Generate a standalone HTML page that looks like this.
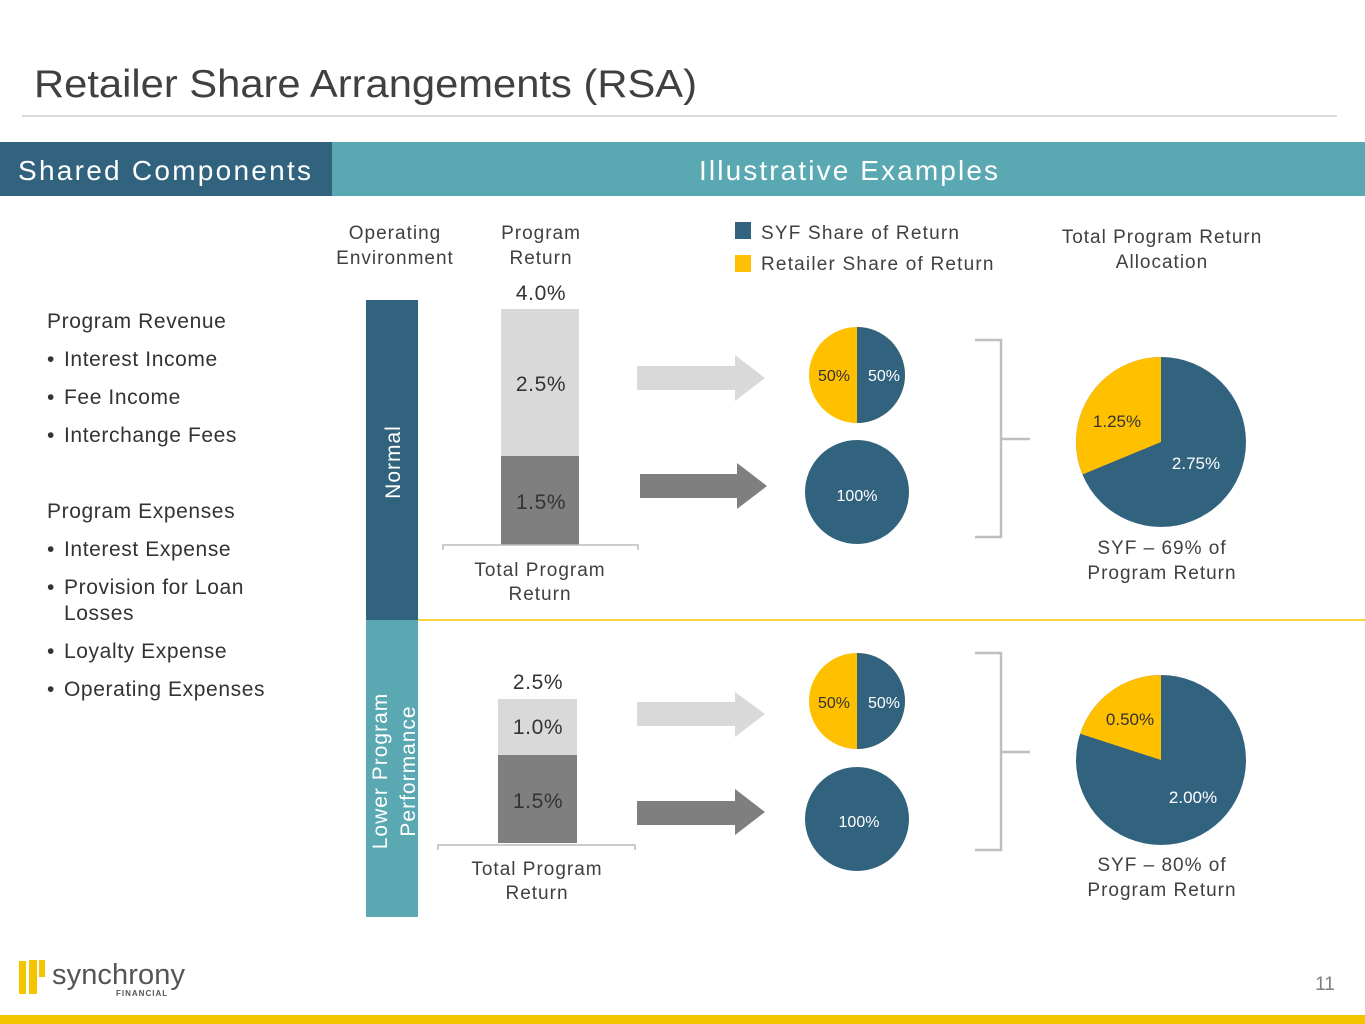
<!DOCTYPE html>
<html><head><meta charset="utf-8"><style>
html,body{margin:0;padding:0;background:#fff;}
svg{display:block;font-family:"Liberation Sans",Arial,sans-serif;}
</style></head><body>
<svg width="1365" height="1024" viewBox="0 0 1365 1024" xmlns="http://www.w3.org/2000/svg">
<text x="34" y="97" font-size="39" fill="#404040" textLength="663" lengthAdjust="spacingAndGlyphs">Retailer Share Arrangements (RSA)</text>
<line x1="22" y1="116" x2="1337" y2="116" stroke="#d0d0d0" stroke-width="1.5"/>
<rect x="0" y="142" width="332" height="54" fill="#31637E"/>
<rect x="332" y="142" width="1033" height="54" fill="#5AA8B2"/>
<text x="18" y="180" font-size="28" fill="#fff" textLength="293">Shared Components</text>
<text x="699" y="180" font-size="28" fill="#fff" textLength="299">Illustrative Examples</text>

<g font-size="21" fill="#333" letter-spacing="0.6">
<text x="47" y="328">Program Revenue</text>
<text x="47" y="366">•</text><text x="64" y="366">Interest Income</text>
<text x="47" y="404">•</text><text x="64" y="404">Fee Income</text>
<text x="47" y="442">•</text><text x="64" y="442">Interchange Fees</text>
<text x="47" y="518">Program Expenses</text>
<text x="47" y="556">•</text><text x="64" y="556">Interest Expense</text>
<text x="47" y="594">•</text><text x="64" y="594">Provision for Loan</text>
<text x="64" y="620">Losses</text>
<text x="47" y="658">•</text><text x="64" y="658">Loyalty Expense</text>
<text x="47" y="696">•</text><text x="64" y="696">Operating Expenses</text>
</g>

<g font-size="19" fill="#404040" text-anchor="middle" letter-spacing="1">
<text x="395" y="239">Operating</text>
<text x="395" y="264">Environment</text>
<text x="541" y="239">Program</text>
<text x="541" y="264">Return</text>
<text x="1162" y="243">Total Program Return</text>
<text x="1162" y="268">Allocation</text>
</g>
<rect x="735" y="222" width="16" height="17" fill="#31637E"/>
<rect x="735" y="255" width="16" height="17" fill="#FFC000"/>
<text x="761" y="239" font-size="19" fill="#404040" letter-spacing="1.2">SYF Share of Return</text>
<text x="761" y="270" font-size="19" fill="#404040" letter-spacing="1.2">Retailer Share of Return</text>

<rect x="366" y="300" width="52" height="320" fill="#31637E"/>
<rect x="366" y="620" width="52" height="297" fill="#5AA8B2"/>
<line x1="418" y1="620" x2="1365" y2="620" stroke="#F2C500" stroke-width="1.5"/>
<text transform="translate(400,462) rotate(-90)" font-size="21" fill="#fff" text-anchor="middle" letter-spacing="1">Normal</text>
<text transform="translate(387,771) rotate(-90)" font-size="21" fill="#fff" text-anchor="middle" letter-spacing="1">Lower Program</text>
<text transform="translate(415,771) rotate(-90)" font-size="21" fill="#fff" text-anchor="middle" letter-spacing="1">Performance</text>

<!-- bars -->
<rect x="501" y="309" width="78" height="147" fill="#D9D9D9"/>
<rect x="501" y="456" width="78" height="89" fill="#7F7F7F"/>
<path d="M443 550 V545 H638 V550" fill="none" stroke="#bbb" stroke-width="1.5"/>
<rect x="498" y="699" width="79" height="56" fill="#D9D9D9"/>
<rect x="498" y="755" width="79" height="88" fill="#7F7F7F"/>
<path d="M438 850 V845 H635 V850" fill="none" stroke="#bbb" stroke-width="1.5"/>
<g font-size="21" fill="#333" text-anchor="middle" letter-spacing="0.6">
<text x="541" y="300">4.0%</text>
<text x="541" y="391">2.5%</text>
<text x="541" y="509">1.5%</text>
<text x="538" y="689">2.5%</text>
<text x="538" y="734">1.0%</text>
<text x="538" y="808">1.5%</text>
</g>
<g font-size="19" fill="#404040" text-anchor="middle" letter-spacing="1">
<text x="540" y="576">Total Program</text>
<text x="540" y="600">Return</text>
<text x="537" y="875">Total Program</text>
<text x="537" y="899">Return</text>
</g>

<!-- arrows -->
<polygon points="637,366 735,366 735,355 765,378 735,401 735,390 637,390" fill="#D9D9D9"/>
<polygon points="640,474 737,474 737,463 767,486 737,509 737,498 640,498" fill="#7F7F7F"/>
<polygon points="637,702 735,702 735,692 765,714 735,737 735,726 637,726" fill="#D9D9D9"/>
<polygon points="637,801 735,801 735,789 765,812 735,835 735,825 637,825" fill="#7F7F7F"/>

<!-- small pies -->
<circle cx="857" cy="375" r="48" fill="#FFC000"/>
<path d="M857 327 A48 48 0 0 1 857 423 Z" fill="#31637E"/>
<circle cx="857" cy="492" r="52" fill="#31637E"/>
<circle cx="857" cy="701" r="48" fill="#FFC000"/>
<path d="M857 653 A48 48 0 0 1 857 749 Z" fill="#31637E"/>
<circle cx="857" cy="819" r="52" fill="#31637E"/>
<g font-size="16">
<text x="834" y="381" fill="#333" text-anchor="middle">50%</text>
<text x="884" y="381" fill="#fff" text-anchor="middle">50%</text>
<text x="857" y="501" fill="#fff" text-anchor="middle">100%</text>
<text x="834" y="708" fill="#333" text-anchor="middle">50%</text>
<text x="884" y="708" fill="#fff" text-anchor="middle">50%</text>
<text x="859" y="827" fill="#fff" text-anchor="middle">100%</text>
</g>

<!-- brackets -->
<path d="M975 340 H1001 V537 H975 M1001 439 H1030" fill="none" stroke="#bfbfbf" stroke-width="2.5"/>
<path d="M975 653 H1001 V850 H975 M1001 752 H1030" fill="none" stroke="#bfbfbf" stroke-width="2.5"/>

<!-- big pies -->
<circle cx="1161" cy="442" r="85" fill="#31637E"/>
<path d="M1161 442 L1082.5 474.5 A85 85 0 0 1 1161 357 Z" fill="#FFC000"/>
<circle cx="1161" cy="760" r="85" fill="#31637E"/>
<path d="M1161 760 L1080.2 733.7 A85 85 0 0 1 1161 675 Z" fill="#FFC000"/>
<g font-size="17">
<text x="1117" y="427" fill="#333" text-anchor="middle">1.25%</text>
<text x="1196" y="469" fill="#fff" text-anchor="middle">2.75%</text>
<text x="1130" y="725" fill="#333" text-anchor="middle">0.50%</text>
<text x="1193" y="803" fill="#fff" text-anchor="middle">2.00%</text>
</g>
<g font-size="19" fill="#404040" text-anchor="middle" letter-spacing="1">
<text x="1162" y="554">SYF – 69% of</text>
<text x="1162" y="579">Program Return</text>
<text x="1162" y="871">SYF – 80% of</text>
<text x="1162" y="896">Program Return</text>
</g>

<!-- footer logo -->
<rect x="19" y="961" width="7" height="33" fill="#F5C400"/>
<rect x="29" y="960" width="8" height="34" fill="#F5C400"/>
<rect x="39" y="960" width="6" height="17" fill="#F5C400"/>
<text x="52" y="984" font-size="29" fill="#555" textLength="133">synchrony</text>
<text x="116" y="996" font-size="8" fill="#555" font-weight="bold" letter-spacing="1">FINANCIAL</text>
<text x="1325" y="990" font-size="19" fill="#7f7f7f" text-anchor="middle">11</text>
<rect x="0" y="1015" width="1365" height="9" fill="#F5C400"/>
</svg>
</body></html>
